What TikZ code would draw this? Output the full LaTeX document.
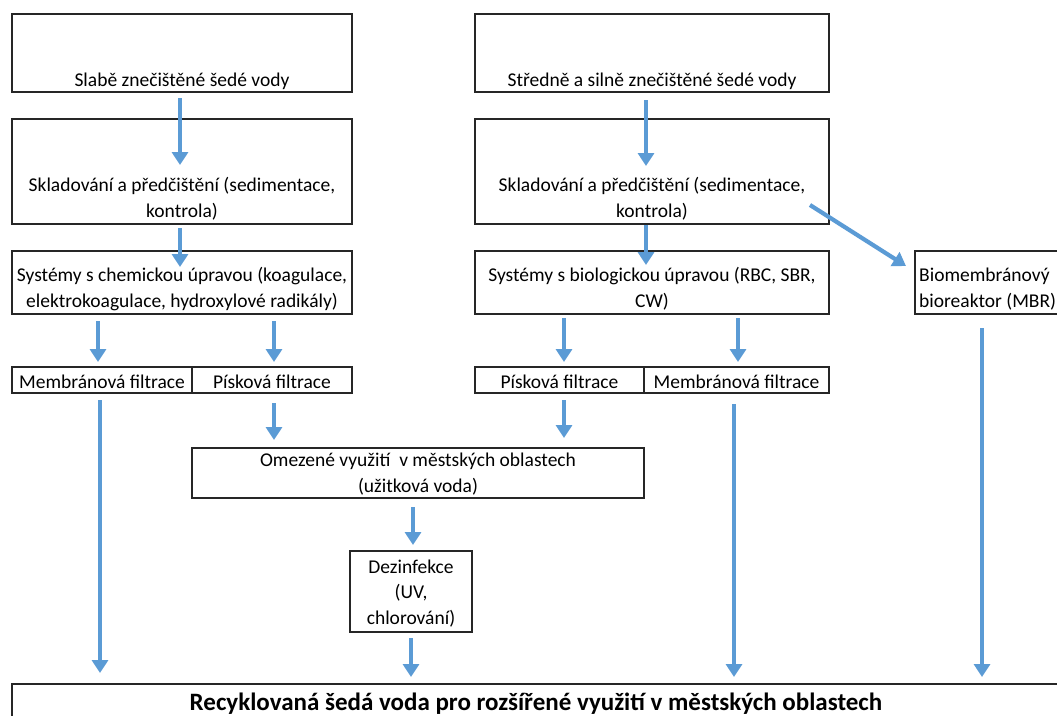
\documentclass[tikz,border=0pt]{standalone}
\usepackage{fontspec}
\setmainfont{Carlito}
\usetikzlibrary{arrows.meta,calc}
\definecolor{arrblue}{HTML}{5B9BD5}
\definecolor{boxline}{HTML}{262626}
\tikzset{
  box/.style={draw=boxline, line width=1.6pt, rectangle, inner sep=0pt, outer sep=0pt, anchor=north west},
  txt/.style={font=\fontsize{19.5}{25.5}\selectfont, inner sep=0pt, anchor=base, align=center},
  arr/.style={draw=arrblue, line width=4.2pt, -{Triangle[width=16pt,length=13pt]}},
}
\begin{document}
\begin{tikzpicture}[x=1pt,y=-1pt]
\useasboundingbox (0,0) rectangle (1057,715);
\fill[white] (0,0) rectangle (1057,715);
% boxes
\node[box, minimum width=340pt, minimum height=78pt] (l1) at (12,14) {};
\node[box, minimum width=354pt, minimum height=78pt] (r1) at (475,14) {};
\node[box, minimum width=340pt, minimum height=105pt] (l2) at (12,119) {};
\node[box, minimum width=354pt, minimum height=105pt] (r2) at (475,119) {};
\node[box, minimum width=340pt, minimum height=63pt] (l3) at (12,251) {};
\node[box, minimum width=354pt, minimum height=63pt] (r3) at (475,251) {};
\node[box, minimum width=160pt, minimum height=63pt] (mbr) at (915,251) {};
\node[box, minimum width=180pt, minimum height=26pt] (lm) at (12,367) {};
\node[box, minimum width=160pt, minimum height=26pt] (lp) at (192,367) {};
\node[box, minimum width=169pt, minimum height=26pt] (rp) at (475,367) {};
\node[box, minimum width=185pt, minimum height=26pt] (rm) at (644,367) {};
\node[box, minimum width=452pt, minimum height=50pt] (om) at (192,448) {};
\node[box, minimum width=122pt, minimum height=81pt] (dz) at (350,551) {};
\node[box, minimum width=1070pt, minimum height=60pt] (rec) at (12,684) {};
% texts (anchor = baseline of last line)
\node[txt] (l1t) at (182,86) {Slabě znečištěné šedé vody};
\node[txt] (r1t) at (652,86) {Středně a silně znečištěné šedé vody};
\node[txt] (l2t) at (182,217) {Skladování a předčištění (sedimentace,\\kontrola)};
\node[txt] (r2t) at (652,217) {Skladování a předčištění (sedimentace,\\kontrola)};
\node[txt] (l3t) at (182,307) {Systémy s chemickou úpravou (koagulace,\\elektrokoagulace, hydroxylové radikály)};
\node[txt, anchor=base west, align=left] (mbrt) at (919,307) {Biomembránový\\bioreaktor (MBR)};
\node[txt] (r3t) at (652,307) {Systémy s biologickou úpravou (RBC, SBR,\\CW)};
\node[txt] (lmt) at (102,388) {Membránová filtrace};
\node[txt] (lpt) at (272,388) {Písková filtrace};
\node[txt] (rpt) at (559.5,388) {Písková filtrace};
\node[txt] (rmt) at (736.5,388) {Membránová filtrace};
\node[txt] (omt) at (418,492) {Omezené využití\ \ v městských oblastech\\(užitková voda)};
\node[txt] (dzt) at (411,624) {Dezinfekce\\(UV,\\chlorování)};
\node[txt, font=\fontsize{25}{26}\selectfont\bfseries] (rect) at (536,710) {Recyklovaná šedá voda pro rozšířené využití v městských oblastech};
% arrows
\draw[arr] ([xshift=168pt,yshift=-6pt]l1.south west) -- ([xshift=168pt,yshift=-46pt]l2.north west);
\draw[arr] ([xshift=171pt,yshift=-8pt]r1.south west) -- ([xshift=171pt,yshift=-47pt]r2.north west);
\draw[arr] ([xshift=168pt,yshift=-4pt]l2.south west) -- ([xshift=168pt,yshift=-16pt]l3.north west);
\draw[arr] ([xshift=171pt,yshift=-1pt]r2.south west) -- ([xshift=171pt,yshift=-14pt]r3.north west);
\draw[arr] ([xshift=-19pt,yshift=19pt]r2.south east) -- ([xshift=-9pt,yshift=-15pt]mbr.north west);
\draw[arr] ([xshift=86pt,yshift=-7pt]l3.south west) -- ([xshift=86pt,yshift=5pt]lm.north west);
\draw[arr] ([xshift=262pt,yshift=-7pt]l3.south west) -- ([xshift=82pt,yshift=5pt]lp.north west);
\draw[arr] ([xshift=89pt,yshift=-4pt]r3.south west) -- ([xshift=89pt,yshift=5pt]rp.north west);
\draw[arr] ([xshift=263pt,yshift=-4pt]r3.south west) -- ([xshift=94pt,yshift=5pt]rm.north west);
\draw[arr] ([xshift=67pt,yshift=-14pt]mbr.south west) -- ([xshift=970pt,yshift=7pt]rec.north west);
\draw[arr] ([xshift=88pt,yshift=-7pt]lm.south west) -- ([xshift=88pt,yshift=11pt]rec.north west);
\draw[arr] ([xshift=82pt,yshift=-10pt]lp.south west) -- ([xshift=82pt,yshift=8pt]om.north west);
\draw[arr] ([xshift=89pt,yshift=-7pt]rp.south west) -- ([xshift=-80pt,yshift=10pt]om.north east);
\draw[arr] ([xshift=90pt,yshift=-11pt]rm.south west) -- ([xshift=722pt,yshift=7pt]rec.north west);
\draw[arr] ([xshift=221pt,yshift=-9pt]om.south west) -- ([xshift=63pt,yshift=6pt]dz.north west);
\draw[arr] ([xshift=61pt,yshift=-6pt]dz.south west) -- ([xshift=399pt,yshift=7pt]rec.north west);
\end{tikzpicture}
\end{document}
